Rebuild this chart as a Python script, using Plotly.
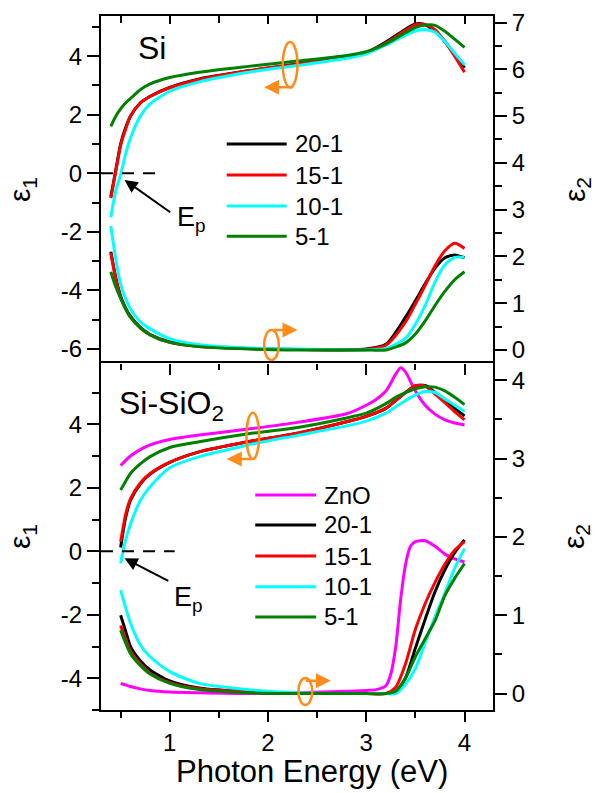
import plotly.graph_objects as go

# ---------------- data ----------------
names = ["20-1", "15-1", "10-1", "5-1"]
colors = {"ZnO": "#FF00FF", "20-1": "#000000", "15-1": "#FF0000",
          "10-1": "#00FFFF", "5-1": "#008000"}

# Si panel: photon energy grid (eV)
si_e = [0.4, 0.45, 0.5, 0.55, 0.6, 0.7, 0.8, 1.0, 1.3, 1.8, 2.3, 2.8,
        3.0, 3.2, 3.4, 3.5, 3.6, 3.7, 3.8, 3.9, 4.0]
si_eps1 = {
    "20-1": [-0.8, 0.1, 1.0, 1.55, 1.95, 2.4, 2.63, 2.93, 3.22, 3.5, 3.73, 3.98,
             4.12, 4.48, 4.92, 5.1, 5.07, 4.85, 4.5, 4.05, 3.6],
    "15-1": [-0.85, 0.05, 0.95, 1.5, 1.95, 2.4, 2.62, 2.92, 3.2, 3.5, 3.72, 3.97,
             4.12, 4.45, 4.88, 5.07, 5.08, 4.9, 4.5, 4.0, 3.45],
    "10-1": [-1.5, -0.6, -0.05, 0.65, 1.2, 1.95, 2.37, 2.8, 3.12, 3.45, 3.68, 3.93,
             4.08, 4.38, 4.72, 4.86, 4.9, 4.82, 4.5, 4.1, 3.7],
    "5-1": [1.6, 1.95, 2.2, 2.4, 2.55, 2.85, 3.05, 3.27, 3.45, 3.65, 3.83, 4.02,
            4.15, 4.42, 4.8, 4.97, 5.06, 5.05, 4.85, 4.58, 4.3],
}
si_eps2 = {
    "20-1": [2.1, 1.55, 1.15, 0.9, 0.72, 0.48, 0.33, 0.17, 0.08, 0.03, 0.01, 0.0,
             0.02, 0.12, 0.7, 1.05, 1.42, 1.75, 1.97, 2.03, 1.97],
    "15-1": [2.07, 1.52, 1.12, 0.88, 0.7, 0.47, 0.32, 0.16, 0.07, 0.03, 0.01, 0.0,
             0.01, 0.1, 0.6, 0.98, 1.38, 1.8, 2.12, 2.28, 2.17],
    "10-1": [2.65, 1.95, 1.4, 1.1, 0.88, 0.6, 0.45, 0.24, 0.11, 0.04, 0.02, 0.0,
             0.0, 0.03, 0.25, 0.55, 0.95, 1.45, 1.82, 1.98, 1.98],
    "5-1": [1.67, 1.35, 1.1, 0.88, 0.7, 0.47, 0.32, 0.16, 0.07, 0.02, 0.0, 0.0,
            0.0, 0.0, 0.15, 0.34, 0.62, 0.95, 1.25, 1.5, 1.67],
}

# Si-SiO2 panel
sio_names = ["ZnO", "20-1", "15-1", "10-1", "5-1"]
sio_e = [0.5, 0.55, 0.6, 0.7, 0.8, 1.0, 1.3, 1.8, 2.3, 2.8, 3.0, 3.2, 3.3,
         3.4, 3.5, 3.6, 3.7, 3.8, 3.9, 4.0]
zno_e = [0.5, 0.6, 0.7, 0.8, 1.0, 1.3, 1.8, 2.3, 2.8, 3.0, 3.1, 3.2, 3.25,
         3.3, 3.35, 3.4, 3.45, 3.5, 3.6, 3.7, 3.8, 3.9, 4.0]
zno_eps1 = [2.7, 3.0, 3.2, 3.35, 3.52, 3.66, 3.85, 4.06, 4.33, 4.6, 4.78, 5.05, 5.3,
            5.58, 5.78, 5.65, 5.35, 5.05, 4.6, 4.32, 4.14, 4.04, 3.98]
zno_eps2 = [0.13, 0.09, 0.06, 0.04, 0.02, 0.01, 0.0, 0.01, 0.03, 0.04, 0.05, 0.1, 0.25,
            0.6, 1.2, 1.65, 1.88, 1.94, 1.95, 1.88, 1.78, 1.72, 1.68]
sio_eps1 = {
    "20-1": [0.12, 1.05, 1.6, 2.12, 2.43, 2.8, 3.13, 3.45, 3.72, 4.08, 4.25, 4.5,
             4.75, 5.0, 5.2, 5.22, 5.0, 4.75, 4.5, 4.26],
    "15-1": [0.3, 1.15, 1.65, 2.15, 2.45, 2.8, 3.13, 3.45, 3.72, 4.08, 4.25, 4.5,
             4.75, 5.0, 5.22, 5.2, 4.95, 4.68, 4.4, 4.14],
    "10-1": [-0.38, 0.35, 0.85, 1.6, 2.03, 2.63, 2.98, 3.35, 3.65, 3.95, 4.1, 4.35,
             4.55, 4.75, 4.92, 5.03, 5.0, 4.8, 4.6, 4.4],
    "5-1": [1.93, 2.2, 2.45, 2.75, 2.98, 3.27, 3.45, 3.7, 3.9, 4.2, 4.35, 4.65,
            4.85, 5.0, 5.12, 5.18, 5.17, 5.05, 4.85, 4.62],
}
sio_eps2 = {
    "20-1": [1.0, 0.8, 0.6, 0.42, 0.3, 0.16, 0.07, 0.02, 0.0, 0.0, 0.0, 0.0,
             0.02, 0.2, 0.58, 0.95, 1.3, 1.58, 1.8, 1.96],
    "15-1": [0.87, 0.7, 0.54, 0.38, 0.26, 0.14, 0.06, 0.02, 0.0, 0.0, 0.0, 0.0,
             0.08, 0.38, 0.82, 1.15, 1.42, 1.65, 1.83, 1.94],
    "10-1": [1.32, 1.1, 0.9, 0.62, 0.47, 0.28, 0.13, 0.05, 0.01, 0.0, 0.0, 0.0,
             0.0, 0.12, 0.32, 0.65, 0.98, 1.28, 1.6, 1.85],
    "5-1": [0.81, 0.65, 0.51, 0.36, 0.25, 0.13, 0.05, 0.01, 0.0, 0.0, 0.0, 0.0,
            0.03, 0.2, 0.47, 0.7, 0.93, 1.25, 1.47, 1.66],
}

x_range = [0.3, 4.29]
top_e1_range = [-6.48, 5.37]
top_e2_range = [-0.28, 7.14]
bot_e1_range = [-5.0, 5.93]
bot_e2_range = [-0.21, 4.22]

top_e1_ticks = [-6, -4, -2, 0, 2, 4]
bot_e1_ticks = [-4, -2, 0, 2, 4]

FONT = "Liberation Sans, Arial, sans-serif"
ORANGE = "#FF8C1A"

fig = go.Figure()


def add_line(x, y, name, xa, ya):
    fig.add_trace(go.Scatter(
        x=x, y=y, mode="lines", name=name, showlegend=False,
        line=dict(color=colors[name], width=3, shape="spline", smoothing=0.7),
        xaxis=xa, yaxis=ya))


for n in names:
    add_line(si_e, si_eps1[n], n, "x", "y")
for n in names:
    add_line(si_e, si_eps2[n], n, "x", "y2")

add_line(zno_e, zno_eps1, "ZnO", "x2", "y3")
add_line(zno_e, zno_eps2, "ZnO", "x2", "y4")
for n in names:
    add_line(sio_e, sio_eps1[n], n, "x2", "y3")
for n in names:
    add_line(sio_e, sio_eps2[n], n, "x2", "y4")

# empty trace so the upper panel's top axis (frame line + inward ticks) is drawn
fig.add_trace(go.Scatter(x=[], y=[], xaxis="x3", yaxis="y", showlegend=False))

tickfont = dict(family=FONT, size=24, color="black")
common_y = dict(showline=True, linewidth=2, linecolor="black", ticks="outside",
                ticklen=12, tickwidth=2, tickcolor="black", showgrid=False,
                zeroline=False, tickfont=tickfont, automargin=False)

fig.update_layout(
    width=595, height=793,
    margin=dict(l=101, r=102, t=16, b=83, autoexpand=False),
    paper_bgcolor="white", plot_bgcolor="white",
    font=dict(family=FONT, color="black"),
    # upper panel: ticks only, pointing down across the shared boundary
    xaxis=dict(domain=[0, 1], anchor="y", range=x_range, side="bottom",
               showline=False, automargin=False,
               ticks="outside", ticklen=11, tickwidth=2, tickcolor="black",
               dtick=1, tick0=0, showticklabels=False, showgrid=False, zeroline=False,
               minor=dict(dtick=0.5, tick0=0, ticks="outside", ticklen=6,
                          tickwidth=2, tickcolor="black")),
    # upper panel top edge: frame line with inward ticks
    xaxis3=dict(overlaying="x", anchor="y", side="top", range=x_range,
                automargin=False,
                ticks="inside", ticklen=8, tickwidth=2, tickcolor="black",
                dtick=1, tick0=0, showticklabels=False, showgrid=False,
                zeroline=False, showline=True, linewidth=2, linecolor="black",
                minor=dict(dtick=0.5, tick0=0, ticks="inside", ticklen=7,
                           tickwidth=2, tickcolor="black")),
    xaxis2=dict(domain=[0, 1], anchor="y3", range=x_range, side="bottom",
                automargin=False,
                showline=True, mirror=True, linewidth=2, linecolor="black",
                ticks="outside", ticklen=10, tickwidth=2, tickcolor="black",
                dtick=1, tick0=0, showgrid=False, zeroline=False, tickfont=tickfont,
                minor=dict(dtick=0.5, tick0=0, ticks="outside", ticklen=6,
                           tickwidth=2, tickcolor="black")),
    yaxis=dict(domain=[0.5, 1], anchor="x", range=top_e1_range,
               tickvals=top_e1_ticks, ticktext=[str(v) for v in top_e1_ticks],
               minor=dict(dtick=1, tick0=0, ticks="outside", ticklen=7,
                          tickwidth=2, tickcolor="black"),
               title=dict(text="ε<sub>1</sub>", standoff=21,
                          font=dict(family=FONT, size=30)),
               **common_y),
    yaxis2=dict(overlaying="y", anchor="x", side="right", range=top_e2_range,
                dtick=1, tick0=0,
                minor=dict(dtick=0.5, tick0=0, ticks="outside", ticklen=7,
                           tickwidth=2, tickcolor="black"),
                title=dict(text="ε<sub>2</sub>", standoff=43,
                           font=dict(family=FONT, size=30)),
                **common_y),
    yaxis3=dict(domain=[0, 0.5], anchor="x2", range=bot_e1_range,
                tickvals=bot_e1_ticks, ticktext=[str(v) for v in bot_e1_ticks],
                minor=dict(dtick=1, tick0=0, ticks="outside", ticklen=7,
                           tickwidth=2, tickcolor="black"),
                title=dict(text="ε<sub>1</sub>", standoff=21,
                           font=dict(family=FONT, size=30)),
                **common_y),
    yaxis4=dict(overlaying="y3", anchor="x2", side="right", range=bot_e2_range,
                dtick=1, tick0=0,
                minor=dict(dtick=0.5, tick0=0, ticks="outside", ticklen=7,
                           tickwidth=2, tickcolor="black"),
                title=dict(text="ε<sub>2</sub>", standoff=39,
                           font=dict(family=FONT, size=30)),
                **common_y),
)

shapes = []
annotations = []

# shared x-axis title
annotations.append(dict(xref="paper", yref="paper", x=0.537, y=-0.089,
                        text="Photon Energy (eV)", showarrow=False,
                        xanchor="center", yanchor="middle",
                        font=dict(family=FONT, size=31, color="black")))

# dashed ε1 = 0 reference lines
shapes.append(dict(type="line", xref="x", yref="y", x0=0.3, x1=0.93, y0=0, y1=0,
                   line=dict(color="black", width=2, dash="12px,9px")))
shapes.append(dict(type="line", xref="x2", yref="y3", x0=0.3, x1=1.05, y0=0, y1=0,
                   line=dict(color="black", width=2, dash="12px,9px")))

# plasma energy arrows and labels
for xr, yr, head, tail, lab in [("x", "y", (0.54, -0.23), (1.02, -1.37), (1.05, -1.55)),
                                ("x2", "y3", (0.54, -0.22), (1.0, -0.96), (1.02, -1.5))]:
    annotations.append(dict(xref=xr, yref=yr, axref=xr, ayref=yr,
                            x=head[0], y=head[1], ax=tail[0], ay=tail[1],
                            text="", showarrow=True, arrowhead=2, arrowsize=1.3,
                            arrowwidth=2, arrowcolor="black"))
    annotations.append(dict(xref=xr, yref=yr, x=lab[0], y=lab[1],
                            text="E<sub>p</sub>", showarrow=False,
                            xanchor="left", yanchor="middle",
                            font=dict(family=FONT, size=27, color="black")))

# panel labels
annotations.append(dict(xref="x", yref="y", x=0.66, y=4.27, text="Si",
                        showarrow=False, xanchor="left", yanchor="middle",
                        font=dict(family=FONT, size=32, color="black")))
annotations.append(dict(xref="x2", yref="y3", x=0.46, y=4.6,
                        text="Si-SiO<sub>2</sub>", showarrow=False,
                        xanchor="left", yanchor="middle",
                        font=dict(family=FONT, size=32, color="black")))

# axis-assignment markers: ellipse plus arrow pointing to the axis in use
markers = [
    ("x", "y", (2.15, 2.30, 2.94, 4.48), (2.27, 2.94), (1.96, 2.94)),
    ("x", "y", (1.96, 2.11, -6.38, -5.35), (2.04, -5.35), (2.30, -5.35)),
    ("x2", "y3", (1.78, 1.91, 2.91, 4.36), (1.85, 2.91), (1.58, 2.91)),
    ("x2", "y3", (2.31, 2.45, -4.84, -3.99), (2.37, -4.08), (2.64, -4.08)),
]
for xr, yr, box, tail, head in markers:
    shapes.append(dict(type="circle", xref=xr, yref=yr, x0=box[0], x1=box[1],
                       y0=box[2], y1=box[3], line=dict(color=ORANGE, width=2.5)))
    annotations.append(dict(xref=xr, yref=yr, axref=xr, ayref=yr,
                            x=head[0], y=head[1], ax=tail[0], ay=tail[1],
                            text="", showarrow=True, arrowhead=2, arrowsize=1.2,
                            arrowwidth=2.5, arrowcolor=ORANGE))

# legends drawn as line samples with labels
top_leg_y = [1.0, -0.06, -1.12, -2.15]
for n, yy in zip(names, top_leg_y):
    shapes.append(dict(type="line", xref="x", yref="y", x0=1.58, x1=2.19, y0=yy, y1=yy,
                       line=dict(color=colors[n], width=3)))
    annotations.append(dict(xref="x", yref="y", x=2.25, y=yy, text=n, showarrow=False,
                            xanchor="left", yanchor="middle",
                            font=dict(family=FONT, size=24, color="black")))
bot_leg_y = [1.77, 0.83, -0.15, -1.12, -2.07]
for n, yy in zip(sio_names, bot_leg_y):
    shapes.append(dict(type="line", xref="x2", yref="y3", x0=1.87, x1=2.49, y0=yy, y1=yy,
                       line=dict(color=colors[n], width=3)))
    annotations.append(dict(xref="x2", yref="y3", x=2.55, y=yy, text=n, showarrow=False,
                            xanchor="left", yanchor="middle",
                            font=dict(family=FONT, size=24, color="black")))

fig.update_layout(shapes=shapes, annotations=annotations)
fig.write_html("out.html")
